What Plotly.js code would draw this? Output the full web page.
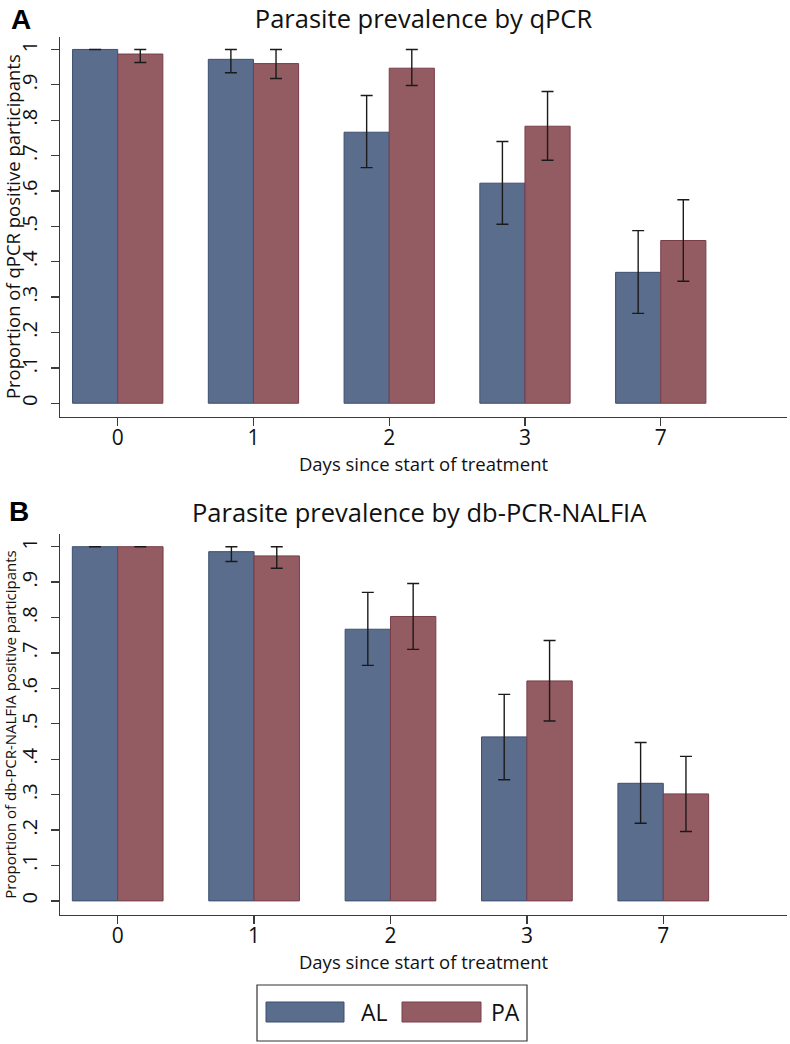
<!DOCTYPE html>
<html>
<head>
<meta charset="utf-8">
<script src="https://cdn.plot.ly/plotly-3.0.1.min.js"></script>
<style>html,body{margin:0;padding:0;background:#fff;}#chart{width:790px;height:1044px;}</style>
</head>
<body>
<div id="chart"></div>
<script>
// ---- data ----
const days = ['0', '1', '2', '3', '7'];
const seriesNames = ['AL', 'PA'];
const yTickVals = [0, 0.1, 0.2, 0.3, 0.4, 0.5, 0.6, 0.7, 0.8, 0.9, 1];
const yTickText = ['0', '.1', '.2', '.3', '.4', '.5', '.6', '.7', '.8', '.9', '1'];

// Panel A: qPCR
const qpcrAL = [1.0, 0.972, 0.766, 0.622, 0.370];
const qpcrALlow = [1.0, 0.934, 0.666, 0.506, 0.254];
const qpcrALhigh = [1.0, 1.0, 0.870, 0.740, 0.488];
const qpcrPA = [0.987, 0.960, 0.947, 0.783, 0.460];
const qpcrPAlow = [0.963, 0.918, 0.898, 0.687, 0.345];
const qpcrPAhigh = [1.0, 1.0, 1.0, 0.881, 0.575];

// Panel B: db-PCR-NALFIA
const nalfiaAL = [1.0, 0.986, 0.767, 0.463, 0.332];
const nalfiaALlow = [1.0, 0.958, 0.665, 0.342, 0.219];
const nalfiaALhigh = [1.0, 1.0, 0.871, 0.583, 0.447];
const nalfiaPA = [1.0, 0.974, 0.803, 0.621, 0.302];
const nalfiaPAlow = [1.0, 0.939, 0.710, 0.508, 0.196];
const nalfiaPAhigh = [1.0, 1.0, 0.896, 0.735, 0.408];

// ---- styles ----
const W = 790, H = 1044, ML = 60, MR = 3;
const colFill = ['#5a6d8d', '#935c62'];
const colLine = ['#3d4f70', '#7a3d48'];
const FONT = 'Open Sans, sans-serif';
const px = x => (x - ML) / (W - ML - MR);
const py = y => 1 - y / H;

function mkTrace(vals, low, high, i, xa, ya) {
  return {
    type: 'bar', x: days, y: vals, name: seriesNames[i],
    xaxis: xa, yaxis: ya, showlegend: false,
    marker: {color: colFill[i], line: {color: colLine[i], width: 1}},
    error_y: {
      type: 'data', symmetric: false,
      array: high.map((h, k) => h - vals[k]),
      arrayminus: low.map((l, k) => vals[k] - l),
      color: '#1a1a1a', thickness: 1.4, width: 6
    }
  };
}

const data = [
  mkTrace(qpcrAL, qpcrALlow, qpcrALhigh, 0, 'x', 'y'),
  mkTrace(qpcrPA, qpcrPAlow, qpcrPAhigh, 1, 'x', 'y'),
  mkTrace(nalfiaAL, nalfiaALlow, nalfiaALhigh, 0, 'x2', 'y2'),
  mkTrace(nalfiaPA, nalfiaPAlow, nalfiaPAhigh, 1, 'x2', 'y2')
];

const axCommon = {
  showline: true, linecolor: '#3a3a3a', linewidth: 1.3,
  showgrid: false, zeroline: false,
  ticks: 'outside', ticklen: 8, tickwidth: 1.3, tickcolor: '#3a3a3a',
  tickfont: {family: FONT, size: 21, color: '#111'},
  automargin: false, fixedrange: true
};

function xAxis(range, anchor) {
  return Object.assign({}, axCommon, {
    type: 'category', range: range, anchor: anchor, domain: [0, 1],
    ticklabelstandoff: -6,
    title: {text: 'Days since start of treatment', font: {family: FONT, size: 18.5, color: '#111'}, standoff: 0}
  });
}
function yAxis(range, anchor, dom, title, tsize) {
  return Object.assign({}, axCommon, {
    range: range, anchor: anchor, domain: dom,
    tickvals: yTickVals, ticktext: yTickText, tickangle: -90,
    tickfont: {family: FONT, size: 20, color: '#111'},
    ticklabelstandoff: 6,
    title: {text: title, font: {family: FONT, size: tsize, color: '#111'}, standoff: 3}
  });
}

const layout = {
  width: W, height: H,
  margin: {l: ML, r: MR, t: 0, b: 0, pad: 0},
  paper_bgcolor: '#fff', plot_bgcolor: '#fff',
  barmode: 'group', bargap: 0.335, bargroupgap: 0,
  showlegend: false,
  title: {
    text: 'Parasite prevalence by qPCR',
    font: {family: FONT, size: 25.5, color: '#111'},
    xref: 'paper', x: px(423.5), xanchor: 'center',
    yref: 'container', y: py(18.8), yanchor: 'middle'
  },
  xaxis: xAxis([-0.425, 4.93], 'y'),
  yaxis: yAxis([-0.038, 1.036], 'x', [py(416.7), py(36.7)], 'Proportion of qPCR positive participants', 18.5),
  xaxis2: xAxis([-0.423, 4.907], 'y2'),
  yaxis2: yAxis([-0.039, 1.035], 'x2', [py(914.7), py(534.3)], 'Proportion of db-PCR-NALFIA positive participants', 15),
  annotations: [
    {text: '<b>A</b>', xref: 'paper', yref: 'paper', x: px(21), y: py(19), xanchor: 'center', yanchor: 'middle',
     showarrow: false, font: {family: 'Liberation Sans, Arial, sans-serif', size: 28, color: '#000'}},
    {text: '<b>B</b>', xref: 'paper', yref: 'paper', x: px(19), y: py(512), xanchor: 'center', yanchor: 'middle',
     showarrow: false, font: {family: 'Liberation Sans, Arial, sans-serif', size: 28, color: '#000'}},
    {text: 'Parasite prevalence by db-PCR-NALFIA', xref: 'paper', yref: 'paper', x: px(419), y: py(512),
     xanchor: 'center', yanchor: 'middle', showarrow: false, font: {family: FONT, size: 25.5, color: '#111'}},
    {text: seriesNames[0], xref: 'paper', yref: 'paper', x: px(359), y: py(1012), xanchor: 'left', yanchor: 'middle',
     showarrow: false, font: {family: FONT, size: 23, color: '#111'}},
    {text: seriesNames[1], xref: 'paper', yref: 'paper', x: px(489), y: py(1012), xanchor: 'left', yanchor: 'middle',
     showarrow: false, font: {family: FONT, size: 23, color: '#111'}}
  ],
  shapes: [
    {type: 'rect', xref: 'paper', yref: 'paper', x0: px(257), x1: px(527), y0: py(985), y1: py(1041),
     line: {color: '#333', width: 1.2}, fillcolor: 'rgba(0,0,0,0)'},
    {type: 'rect', xref: 'paper', yref: 'paper', x0: px(266), x1: px(344), y0: py(1002), y1: py(1022),
     line: {color: colLine[0], width: 1}, fillcolor: colFill[0]},
    {type: 'rect', xref: 'paper', yref: 'paper', x0: px(402), x1: px(481), y0: py(1002), y1: py(1022),
     line: {color: colLine[1], width: 1}, fillcolor: colFill[1]}
  ]
};

Plotly.newPlot('chart', data, layout, {staticPlot: true, displayModeBar: false});
</script>
</body>
</html>
